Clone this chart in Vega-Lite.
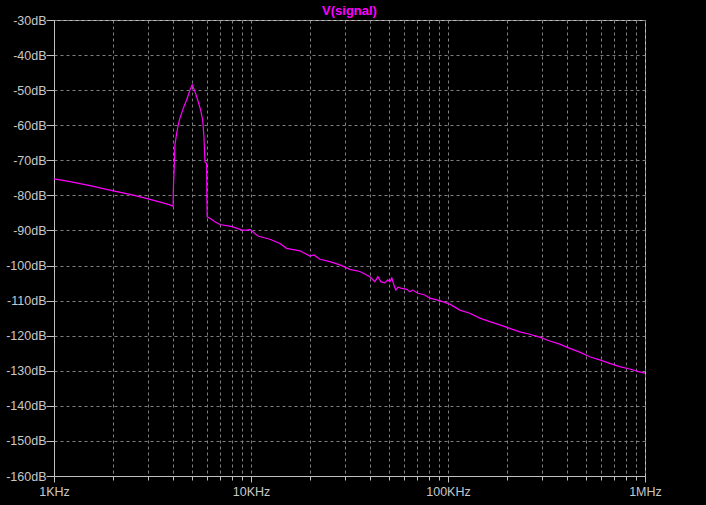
{
  "$schema": "https://vega.github.io/schema/vega-lite/v6.json",
  "autosize": "none",
  "width": 591,
  "height": 456,
  "padding": {"left": 54, "top": 20, "right": 61, "bottom": 29},
  "background": "#000000",
  "title": {"text": "V(signal)", "color": "#ff00ff", "font": "Liberation Sans", "fontSize": 13, "fontWeight": "bold", "anchor": "middle", "frame": "group", "baseline": "middle", "offset": 0, "dy": 10},
  "config": {
    "view": {"stroke": "#c0c0c0", "strokeWidth": 1, "fill": "#000000"},
    "axis": {"labelFont": "Liberation Sans", "labelFontSize": 12.5, "labelColor": "#c8c8c8", "domainColor": "#c0c0c0", "tickColor": "#c0c0c0", "gridColor": "#808080", "gridDash": [3, 3], "gridWidth": 1, "title": null}
  },
  "data": {"values": [
    {"f": 1000, "db": -75.3},
    {"f": 1206, "db": -76.1},
    {"f": 1523, "db": -77.2},
    {"f": 2000, "db": -78.7},
    {"f": 2430, "db": -79.7},
    {"f": 3009, "db": -81.0},
    {"f": 3500, "db": -82.0},
    {"f": 3878, "db": -82.7},
    {"f": 4025, "db": -83.1},
    {"f": 4032, "db": -78.9},
    {"f": 4077, "db": -71.8},
    {"f": 4111, "db": -65.6},
    {"f": 4194, "db": -62.3},
    {"f": 4272, "db": -59.9},
    {"f": 4358, "db": -58.0},
    {"f": 4529, "db": -55.2},
    {"f": 4713, "db": -52.8},
    {"f": 4898, "db": -50.0},
    {"f": 5030, "db": -48.5},
    {"f": 5193, "db": -50.4},
    {"f": 5397, "db": -53.3},
    {"f": 5552, "db": -55.7},
    {"f": 5683, "db": -58.5},
    {"f": 5769, "db": -63.3},
    {"f": 5837, "db": -70.4},
    {"f": 5953, "db": -70.9},
    {"f": 5970, "db": -80.8},
    {"f": 5995, "db": -86.1},
    {"f": 6186, "db": -86.5},
    {"f": 6558, "db": -87.5},
    {"f": 6954, "db": -88.3},
    {"f": 8029, "db": -88.9},
    {"f": 9024, "db": -89.9},
    {"f": 9500, "db": -89.9},
    {"f": 9872, "db": -89.7},
    {"f": 10840, "db": -91.6},
    {"f": 12470, "db": -92.5},
    {"f": 14020, "db": -93.7},
    {"f": 15160, "db": -95.1},
    {"f": 17710, "db": -95.8},
    {"f": 19900, "db": -97.3},
    {"f": 20850, "db": -97.0},
    {"f": 22370, "db": -98.2},
    {"f": 25140, "db": -98.9},
    {"f": 28250, "db": -99.8},
    {"f": 31760, "db": -101.1},
    {"f": 35690, "db": -101.7},
    {"f": 40120, "db": -103.2},
    {"f": 42530, "db": -104.6},
    {"f": 44040, "db": -103.2},
    {"f": 45610, "db": -104.6},
    {"f": 47780, "db": -104.9},
    {"f": 49500, "db": -104.1},
    {"f": 50670, "db": -104.6},
    {"f": 51870, "db": -103.5},
    {"f": 53090, "db": -105.5},
    {"f": 54350, "db": -107.0},
    {"f": 55640, "db": -106.2},
    {"f": 58300, "db": -106.5},
    {"f": 61800, "db": -106.8},
    {"f": 64000, "db": -107.5},
    {"f": 66300, "db": -107.0},
    {"f": 70300, "db": -107.9},
    {"f": 76260, "db": -108.4},
    {"f": 80860, "db": -109.3},
    {"f": 90880, "db": -110.0},
    {"f": 102100, "db": -111.0},
    {"f": 114800, "db": -112.7},
    {"f": 129000, "db": -113.6},
    {"f": 145000, "db": -115.0},
    {"f": 163000, "db": -116.0},
    {"f": 183200, "db": -116.9},
    {"f": 205900, "db": -117.9},
    {"f": 231400, "db": -118.9},
    {"f": 260000, "db": -119.6},
    {"f": 292300, "db": -120.4},
    {"f": 328500, "db": -121.5},
    {"f": 369200, "db": -122.4},
    {"f": 415000, "db": -123.6},
    {"f": 466400, "db": -124.7},
    {"f": 524200, "db": -126.0},
    {"f": 589200, "db": -126.9},
    {"f": 662200, "db": -127.9},
    {"f": 744200, "db": -128.8},
    {"f": 836500, "db": -129.5},
    {"f": 940000, "db": -130.3},
    {"f": 1000000, "db": -130.7}
  ]},
  "mark": {"type": "line", "color": "#ff00ff", "strokeWidth": 1.2, "clip": true},
  "encoding": {
    "x": {
      "field": "f", "type": "quantitative",
      "scale": {"type": "log", "domain": [1000, 1000000], "nice": false},
      "axis": {
        "values": [1000, 2000, 3000, 4000, 5000, 6000, 7000, 8000, 9000, 10000, 20000, 30000, 40000, 50000, 60000, 70000, 80000, 90000, 100000, 200000, 300000, 400000, 500000, 600000, 700000, 800000, 900000, 1000000],
        "labelExpr": "datum.value == 1000 ? '1KHz' : datum.value == 10000 ? '10KHz' : datum.value == 100000 ? '100KHz' : datum.value == 1000000 ? '1MHz' : ''",
        "tickSize": {"condition": {"test": "datum.value == 1000 || datum.value == 10000 || datum.value == 100000 || datum.value == 1000000", "value": 6}, "value": 4},
        "labelPadding": 3,
        "labelFlush": false,
        "labelOverlap": false,
        "labelBaseline": "top"
      }
    },
    "y": {
      "field": "db", "type": "quantitative",
      "scale": {"domain": [-160, -30], "nice": false, "zero": false},
      "axis": {
        "values": [-30, -40, -50, -60, -70, -80, -90, -100, -110, -120, -130, -140, -150, -160],
        "labelExpr": "datum.value + 'dB'",
        "tickSize": 8,
        "labelPadding": 0,
        "labelFlush": false,
        "labelOverlap": false
      }
    }
  }
}
